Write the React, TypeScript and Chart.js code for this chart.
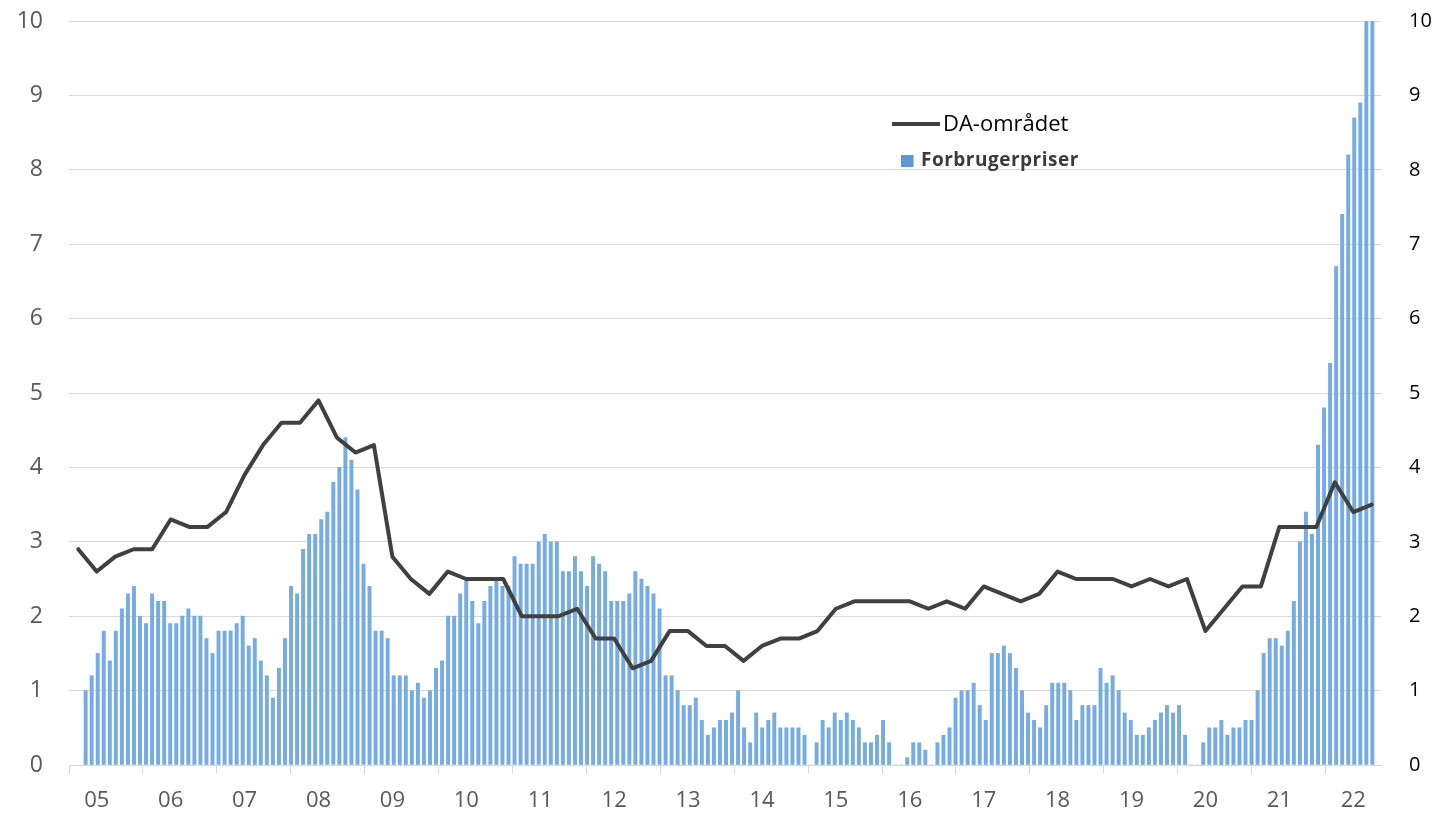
import React, { useEffect, useRef } from 'react';
import { Chart, registerables } from 'chart.js';

Chart.register(...registerables);

// Year tick labels on the x axis (2005 .. 2022)
const yearLabels = ['05', '06', '07', '08', '09', '10', '11', '12', '13', '14', '15', '16', '17', '18', '19', '20', '21', '22'];

// Forbrugerpriser: monthly, Jan 2005 .. Oct 2022 (pct. y/y)
const cpi2005 = [1.0, 1.2, 1.5, 1.8, 1.4, 1.8, 2.1, 2.3, 2.4, 2.0, 1.9, 2.3];
const cpi2006 = [2.2, 2.2, 1.9, 1.9, 2.0, 2.1, 2.0, 2.0, 1.7, 1.5, 1.8, 1.8];
const cpi2007 = [1.8, 1.9, 2.0, 1.6, 1.7, 1.4, 1.2, 0.9, 1.3, 1.7, 2.4, 2.3];
const cpi2008 = [2.9, 3.1, 3.1, 3.3, 3.4, 3.8, 4.0, 4.4, 4.1, 3.7, 2.7, 2.4];
const cpi2009 = [1.8, 1.8, 1.7, 1.2, 1.2, 1.2, 1.0, 1.1, 0.9, 1.0, 1.3, 1.4];
const cpi2010 = [2.0, 2.0, 2.3, 2.5, 2.2, 1.9, 2.2, 2.4, 2.5, 2.4, 2.4, 2.8];
const cpi2011 = [2.7, 2.7, 2.7, 3.0, 3.1, 3.0, 3.0, 2.6, 2.6, 2.8, 2.6, 2.4];
const cpi2012 = [2.8, 2.7, 2.6, 2.2, 2.2, 2.2, 2.3, 2.6, 2.5, 2.4, 2.3, 2.1];
const cpi2013 = [1.2, 1.2, 1.0, 0.8, 0.8, 0.9, 0.6, 0.4, 0.5, 0.6, 0.6, 0.7];
const cpi2014 = [1.0, 0.5, 0.3, 0.7, 0.5, 0.6, 0.7, 0.5, 0.5, 0.5, 0.5, 0.4];
const cpi2015 = [0.0, 0.3, 0.6, 0.5, 0.7, 0.6, 0.7, 0.6, 0.5, 0.3, 0.3, 0.4];
const cpi2016 = [0.6, 0.3, 0.0, 0.0, 0.1, 0.3, 0.3, 0.2, 0.0, 0.3, 0.4, 0.5];
const cpi2017 = [0.9, 1.0, 1.0, 1.1, 0.8, 0.6, 1.5, 1.5, 1.6, 1.5, 1.3, 1.0];
const cpi2018 = [0.7, 0.6, 0.5, 0.8, 1.1, 1.1, 1.1, 1.0, 0.6, 0.8, 0.8, 0.8];
const cpi2019 = [1.3, 1.1, 1.2, 1.0, 0.7, 0.6, 0.4, 0.4, 0.5, 0.6, 0.7, 0.8];
const cpi2020 = [0.7, 0.8, 0.4, 0.0, 0.0, 0.3, 0.5, 0.5, 0.6, 0.4, 0.5, 0.5];
const cpi2021 = [0.6, 0.6, 1.0, 1.5, 1.7, 1.7, 1.6, 1.8, 2.2, 3.0, 3.4, 3.1];
const cpi2022 = [4.3, 4.8, 5.4, 6.7, 7.4, 8.2, 8.7, 8.9, 10.0, 10.1];

const cpiMonthly = [
  ...cpi2005, ...cpi2006, ...cpi2007, ...cpi2008, ...cpi2009, ...cpi2010,
  ...cpi2011, ...cpi2012, ...cpi2013, ...cpi2014, ...cpi2015, ...cpi2016,
  ...cpi2017, ...cpi2018, ...cpi2019, ...cpi2020, ...cpi2021, ...cpi2022,
];

// DA-området: quarterly, Q1 2005 .. Q3 2022
const daQuarterly = [
  2.9, 2.6, 2.8, 2.9,
  2.9, 3.3, 3.2, 3.2,
  3.4, 3.9, 4.3, 4.6,
  4.6, 4.9, 4.4, 4.2,
  4.3, 2.8, 2.5, 2.3,
  2.6, 2.5, 2.5, 2.5,
  2.0, 2.0, 2.0, 2.1,
  1.7, 1.7, 1.3, 1.4,
  1.8, 1.8, 1.6, 1.6,
  1.4, 1.6, 1.7, 1.7,
  1.8, 2.1, 2.2, 2.2,
  2.2, 2.2, 2.1, 2.2,
  2.1, 2.4, 2.3, 2.2,
  2.3, 2.6, 2.5, 2.5,
  2.5, 2.4, 2.5, 2.4,
  2.5, 1.8, 2.1, 2.4,
  2.4, 3.2, 3.2, 3.2,
  3.8, 3.4, 3.5,
];

const seriesLineName = 'DA-området';
const seriesBarName = 'Forbrugerpriser';

const QUARTERS_PER_YEAR = 4;
const yearTickValues = yearLabels.map((_, k) => k * QUARTERS_PER_YEAR);
const yearLabelValues = yearLabels.map((_, k) => k * QUARTERS_PER_YEAR + 1.5);

const legendPlugin = {
  id: 'customLegend',
  afterDraw(chart: any) {
    const ctx = chart.ctx;
    ctx.save();
    ctx.strokeStyle = '#404040';
    ctx.lineWidth = 4;
    ctx.beginPath();
    ctx.moveTo(892, 124);
    ctx.lineTo(940, 124);
    ctx.stroke();
    ctx.fillStyle = '#000000';
    ctx.font = '22px "Open Sans"';
    ctx.textBaseline = 'alphabetic';
    ctx.textAlign = 'left';
    ctx.fillText(seriesLineName, 943, 131);
    ctx.fillStyle = '#5b9bd5';
    ctx.fillRect(901, 155, 12.5, 12);
    ctx.fillStyle = '#3b3b3b';
    ctx.font = 'bold 19px "Open Sans"';
    (ctx as any).letterSpacing = '0.5px';
    ctx.fillText(seriesBarName, 921, 166);
    (ctx as any).letterSpacing = '0px';
    ctx.restore();
  },
};

export default function App() {
  const canvasRef = useRef<HTMLCanvasElement | null>(null);

  useEffect(() => {
    document.body.style.margin = '0';
    const canvas = canvasRef.current;
    if (!canvas) return;

    const chart = new Chart(canvas, {
      type: 'bar',
      data: {
        datasets: [
          {
            type: 'line',
            label: seriesLineName,
            data: daQuarterly.map((v, q) => ({ x: q + 0.5, y: v })),
            xAxisID: 'x',
            yAxisID: 'y',
            borderColor: '#404040',
            borderWidth: 4,
            pointRadius: 0,
            tension: 0,
            borderJoinStyle: 'round',
            borderCapStyle: 'round',
            order: 0,
          } as any,
          {
            type: 'bar',
            label: seriesBarName,
            data: cpiMonthly.map((v, i) => ({ x: i, y: v })),
            xAxisID: 'xm',
            yAxisID: 'y',
            backgroundColor: 'rgb(118,172,226)',
            borderWidth: 0,
            barThickness: 3.3,
            order: 1,
          } as any,
        ],
      },
      options: {
        responsive: false,
        animation: false,
        layout: { padding: { top: 21, left: 0, right: 0, bottom: 0 } },
        plugins: {
          legend: { display: false },
          tooltip: { enabled: false },
        },
        scales: {
          x: {
            type: 'linear',
            position: 'bottom',
            min: 0,
            max: daQuarterly.length,
            offset: false,
            afterBuildTicks: (scale: any) => {
              const vals = [...yearTickValues, ...yearLabelValues].sort((a, b) => a - b);
              scale.ticks = vals.map((v) => ({ value: v }));
            },
            afterFit: (scale: any) => {
              scale.height = 50;
              scale.paddingLeft = 0;
              scale.paddingRight = 0;
            },
            grid: {
              offset: false,
              drawOnChartArea: false,
              drawTicks: true,
              tickLength: 9,
              lineWidth: 1,
              color: (ctx: any) =>
                ctx.tick && yearTickValues.includes(ctx.tick.value) ? '#d9d9d9' : 'rgba(0,0,0,0)',
            },
            border: { display: true, color: '#d9d9d9', width: 1 },
            ticks: {
              autoSkip: false,
              maxRotation: 0,
              minRotation: 0,
              padding: 14,
              color: '#595959',
              font: { family: '"Open Sans"', size: 22 },
              callback: (value: any) => {
                const idx = yearLabelValues.indexOf(Number(value));
                return idx >= 0 ? yearLabels[idx] : '';
              },
            },
          },
          xm: {
            type: 'linear',
            display: false,
            min: -2.48,
            max: 214.7,
            offset: false,
            grid: { offset: false },
          },
          y: {
            type: 'linear',
            position: 'left',
            min: 0,
            max: 10,
            afterFit: (scale: any) => {
              scale.width = 69;
              scale.paddingTop = 0;
              scale.paddingBottom = 0;
            },
            ticks: {
              stepSize: 1,
              padding: 26,
              color: '#595959',
              font: { family: '"Open Sans"', size: 23 },
            },
            grid: { color: '#d9d9d9', lineWidth: 1, drawTicks: false },
            border: { display: false },
          },
          y1: {
            type: 'linear',
            position: 'right',
            min: 0,
            max: 10,
            afterFit: (scale: any) => {
              scale.width = 59;
              scale.paddingTop = 0;
              scale.paddingBottom = 0;
            },
            ticks: {
              stepSize: 1,
              padding: 28,
              color: '#000000',
              font: { family: '"Open Sans"', size: 20 },
            },
            grid: { display: false, drawTicks: false },
            border: { display: false },
          },
        } as any,
      },
      plugins: [legendPlugin],
    });

    return () => {
      chart.destroy();
    };
  }, []);

  return (
    <div style={{ width: 1440, height: 815, background: '#ffffff' }}>
      <canvas ref={canvasRef} width={1440} height={815} style={{ display: 'block' }} />
    </div>
  );
}
